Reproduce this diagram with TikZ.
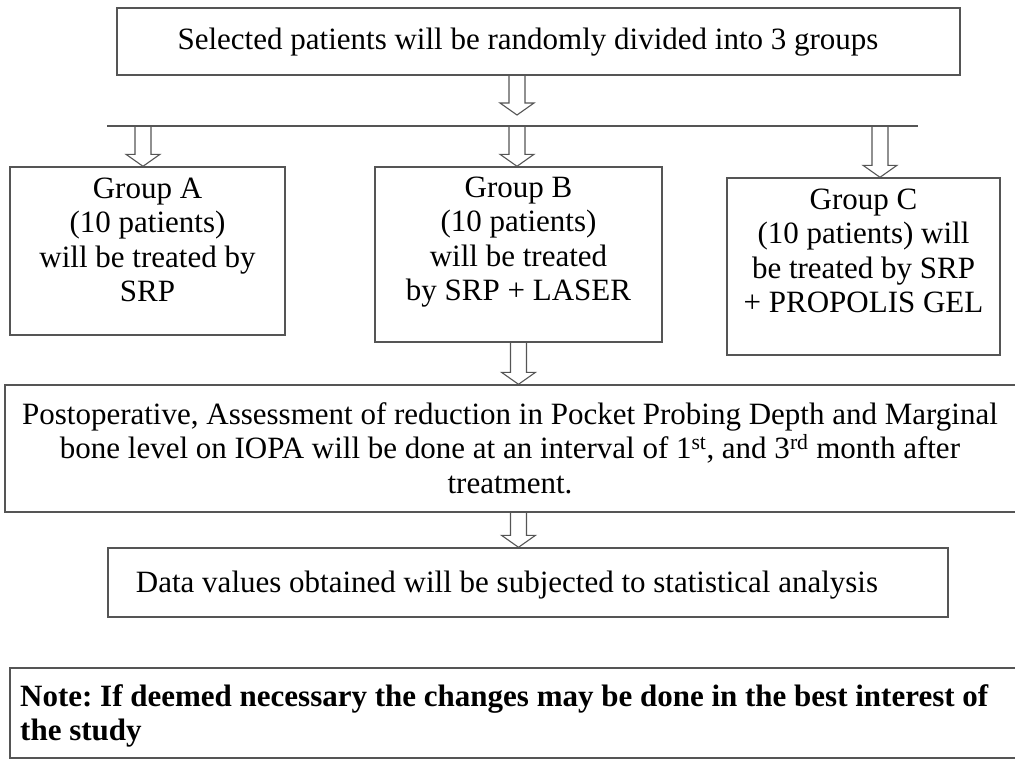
\documentclass[tikz,border=0pt]{standalone}
\usepackage{fontspec}
\setmainfont{Liberation Serif}
\usetikzlibrary{calc}
\frenchspacing
\definecolor{linegray}{HTML}{555555}
\tikzset{
  box/.style={draw=linegray, line width=1.4pt, inner sep=0pt, rectangle},
  txt/.style={align=center, inner sep=0pt, font=\fontsize{31}{34.5}\selectfont},
  arrowline/.style={draw=linegray, line width=1.1pt, line join=miter},
  splitline/.style={draw=linegray, line width=1.4pt}
}
\newcommand\hollowarrow[2]{%
  \draw[arrowline] let \p1=#1, \p2=#2 in
  (\x1-8pt,\y1) -- (\x1-8pt,\y2+12pt) -- (\x1-17pt,\y2+12pt) -- (\x1,\y2)
  -- (\x1+17pt,\y2+12pt) -- (\x1+8pt,\y2+12pt) -- (\x1+8pt,\y1);}
\begin{document}
\begin{tikzpicture}[x=1pt,y=-1pt]
\useasboundingbox (0,0) rectangle (1015,768);
% top box
\node[box, minimum width=843pt, minimum height=67pt] (top) at (538.5,41.5) {};
\node[txt] (topt) at (528,42) {Selected patients will be randomly divided into 3 groups};
% split line
\coordinate (sl) at (107,126);
\coordinate (sr) at (918,126);
\coordinate (sm) at (517,126);
\coordinate (tip1) at (517,115);
\draw[splitline] (sl) -- (sr);
\coordinate (cA) at (143,126);
\coordinate (cB) at (517,126);
\coordinate (cC) at (880,126);
% groups
\node[box, minimum width=275pt, minimum height=168pt] (gA) at (147.5,251) {};
\node[txt] (gAt) at (147.5,240) {Group A\\(10 patients)\\will be treated by\\SRP};
\node[box, minimum width=287pt, minimum height=175pt] (gB) at (518.5,254.5) {};
\node[txt] (gBt) at (518.5,242) {Group B\\(10 patients)\\will be treated\\by SRP + LASER};
\node[box, minimum width=273pt, minimum height=177pt] (gC) at (863.5,266.5) {};
\node[txt] (gCt) at (863.5,251) {Group C\\(10 patients) will\\be treated by SRP\\+ PROPOLIS GEL};
% postoperative
\node[box, minimum width=1015pt, minimum height=127pt] (post) at (512.5,448.5) {};
\node[txt] (postt) at (510,448) {Postoperative, Assessment of reduction in Pocket Probing Depth and Marginal\\bone level on IOPA will be done at an interval of 1\textsuperscript{st}, and 3\textsuperscript{rd} month after\\treatment.};
% data
\node[box, minimum width=840pt, minimum height=69pt] (data) at (528,582.5) {};
\node[txt] (datat) at (507,585) {Data values obtained will be subjected to statistical analysis};
% note
\node[box, minimum width=1010pt, minimum height=90pt] (note) at (515,713) {};
\node[txt, align=left, anchor=west, font=\bfseries\fontsize{31}{34.5}\selectfont] (notet) at (20,716) {Note: If deemed necessary the changes may be done in the best interest of\\the study};
% arrows
\hollowarrow{(sm |- top.south)}{(tip1)}
\hollowarrow{(cA)}{(cA |- gA.north)}
\hollowarrow{(cB)}{(cB |- gB.north)}
\hollowarrow{(cC)}{(cC |- gC.north)}
\hollowarrow{(gB.south)}{(gB.south |- post.north)}
\hollowarrow{(gB.south |- post.south)}{(gB.south |- data.north)}
\end{tikzpicture}
\end{document}
